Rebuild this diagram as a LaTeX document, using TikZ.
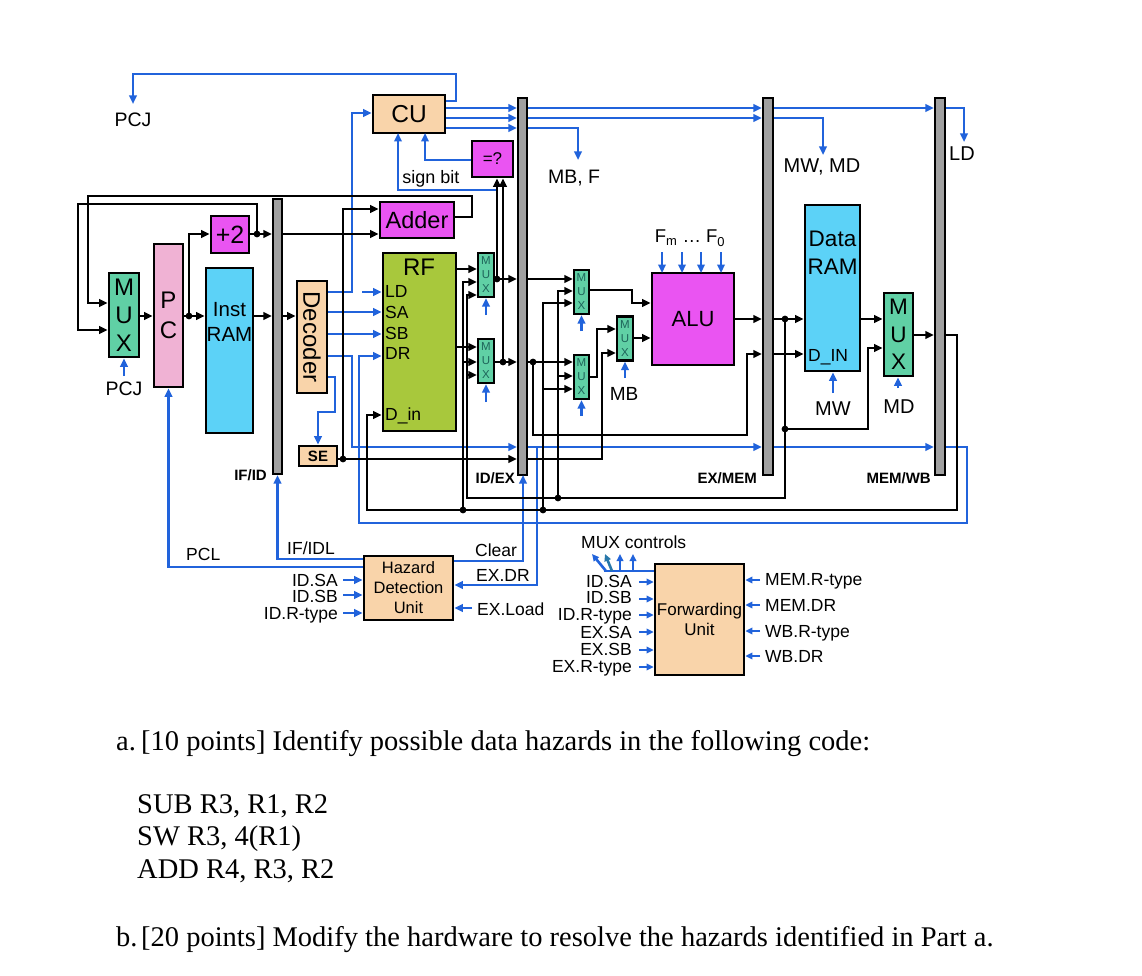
\documentclass[tikz,border=0pt]{standalone}
\usepackage{fontspec}
\setmainfont{Liberation Sans}
\newfontfamily\tnr{Liberation Serif}
\usetikzlibrary{arrows.meta}
\definecolor{wblue}{RGB}{33,99,219}
\definecolor{peach}{RGB}{249,212,170}
\definecolor{mag}{RGB}{234,84,242}
\definecolor{mint}{RGB}{96,208,165}
\definecolor{pcpink}{RGB}{240,178,212}
\definecolor{ramblue}{RGB}{92,210,247}
\definecolor{rfgreen}{RGB}{168,200,60}
\definecolor{bargray}{RGB}{160,160,160}
\definecolor{muxtxt}{RGB}{30,100,90}
\definecolor{tealarrow}{RGB}{40,120,170}
\newcommand\fsz[1]{\fontsize{#1pt}{#1pt}\selectfont}
\newcommand\fszl[2]{\fontsize{#1pt}{#2pt}\selectfont}
\tikzset{
  wire/.style={line width=2.6pt, draw=black},
  bw/.style={line width=2.6pt, draw=wblue},
  arr/.style={-{Triangle[length=8.5pt,width=7.5pt]}},
  sarr/.style={-{Triangle[length=7pt,width=6.5pt]}},
  blk/.style={draw=black, line width=2.7pt, inner sep=0pt, align=center},
  barn/.style={draw=black, line width=2.3pt, fill=bargray, inner sep=0pt},
  lb/.style={inner sep=0pt, anchor=base},
  lbe/.style={inner sep=0pt, anchor=base east},
  lbw/.style={inner sep=0pt, anchor=base west},
  smux/.style={draw=black, line width=2.2pt, inner sep=0pt, align=center, fill=mint, font=\fszl{11.5}{14}, text=muxtxt, minimum width=16pt, minimum height=44pt},
  qtext/.style={inner sep=0pt, anchor=base west, font=\tnr\fsz{28.5}},
}
\begin{document}
\begin{tikzpicture}[x=1pt,y=-1pt]
\useasboundingbox (0,0) rectangle (1142,976);
\fill[white] (0,0) rectangle (1142,976);

% ---------- boxes ----------
\node[blk, fill=peach, minimum width=72pt, minimum height=38pt, font=\fsz{24.5}] (cu) at (409,114) {CU};
\node[blk, fill=mag, minimum width=41pt, minimum height=36pt, font=\fsz{17}] (eq) at (492.5,159) {=?};
\node[blk, fill=mag, minimum width=74pt, minimum height=36pt, font=\fsz{23.5}] (adder) at (417,220) {Adder};
\node[blk, fill=mag, minimum width=38pt, minimum height=37pt, font=\fsz{25}] (p2) at (230,234.5) {+2};
\node[blk, fill=rfgreen, minimum width=73pt, minimum height=178pt] (rf) at (419.5,342) {};
\node[blk, fill=mint, minimum width=30pt, minimum height=84pt, font=\fszl{24}{28}] (mux0) at (124,315) {M\\U\\X};
\node[blk, fill=pcpink, minimum width=29pt, minimum height=143pt, font=\fszl{24}{30}] (pc) at (168.5,315.5) {P\\C};
\node[blk, fill=ramblue, minimum width=47pt, minimum height=165pt] (iram) at (229.5,350.5) {};
\node[barn, minimum width=9pt, minimum height=275pt] (ifid) at (277.5,336.5) {};
\node[blk, fill=peach, minimum width=30pt, minimum height=112pt] (dec) at (312,337) {};
\node[rotate=-90, inner sep=0pt, font=\fsz{24}] (dect) at (312,337) {Decoder};
\node[blk, fill=peach, minimum width=38pt, minimum height=20pt, font=\bfseries\fsz{15}] (se) at (318,456) {SE};
\node[smux] (mxu) at (486,275) {M\\U\\X};
\node[smux] (mxl) at (486,361) {M\\U\\X};
\node[barn, minimum width=9pt, minimum height=377pt] (idex) at (522.5,286.5) {};
\node[smux, minimum width=15pt] (muxa) at (581.5,292) {M\\U\\X};
\node[smux, minimum width=15pt] (muxb) at (581.5,377) {M\\U\\X};
\node[smux] (mbmux) at (625,338.5) {M\\U\\X};
\node[blk, fill=mag, minimum width=82pt, minimum height=92pt, font=\fsz{22}] (alu) at (693,319) {ALU};
\node[barn, minimum width=10pt, minimum height=377pt] (exmem) at (768,286.5) {};
\node[blk, fill=ramblue, minimum width=55pt, minimum height=166pt] (dram) at (832.5,288) {};
\node[blk, fill=mint, minimum width=29pt, minimum height=83pt, font=\fszl{22.5}{27.5}] (wbmux) at (898.5,334.5) {M\\U\\X};
\node[barn, minimum width=10pt, minimum height=377pt] (memwb) at (940,286.5) {};
\node[blk, fill=peach, minimum width=89pt, minimum height=64pt, font=\fszl{16.5}{20}] (hz) at (408.5,588) {Hazard\\Detection\\Unit};
\node[blk, fill=peach, minimum width=89pt, minimum height=111pt, font=\fszl{17}{20.5}] (fw) at (699.5,619.5) {Forwarding\\Unit};

% texts inside boxes
\node[inner sep=0pt, align=center, font=\fszl{22.5}{28}] (dramt) at (832.5,253) {Data\\RAM};
\node[inner sep=0pt, align=center, font=\fszl{20.5}{25}] (iramt) at (229.5,322) {Inst\\RAM};
\node[lb, font=\fsz{24}] (rft) at (419,276) {RF};
\node[lbw, font=\fsz{17.5}] (rfld) at (385,297) {LD};
\node[lbw, font=\fsz{17.5}] (rfsa) at (385,318) {SA};
\node[lbw, font=\fsz{17.5}] (rfsb) at (385,339) {SB};
\node[lbw, font=\fsz{17.5}] (rfdr) at (385,359) {DR};
\node[lbw, font=\fsz{17.5}] (rfdin) at (385,420) {D\_in};
\node[lbw, font=\fsz{17.5}] (dramin) at (808,361) {D\_IN};

% ---------- blue control wires ----------
\draw[bw,arr] (cu.east |- 0,101) -| (456,74) -| (133,104);
\draw[bw,arr] (dec.east |- 0,292) -| (352,113) -- (cu.west |- 0,113);
\draw[bw,arr] (362,292) -- (rf.west |- 0,292);
\draw[bw,arr] (dec.east |- 0,312) -- (rf.west |- 0,312);
\draw[bw,arr] (dec.east |- 0,334) -- (rf.west |- 0,334);
\draw[bw,arr] (dec.east |- 0,356) -| (352,447) -- (idex.west |- 0,447);
\draw[bw,arr] (dec.east |- 0,377) -| (335,412) -| (se.north);
\foreach \y in {108,118,128} \draw[bw,arr] (cu.east |- 0,\y) -- (idex.west |- 0,\y);
\draw[bw,arr] (idex.east |- 0,108) -- (exmem.west |- 0,108);
\draw[bw,arr] (idex.east |- 0,118) -- (exmem.west |- 0,118);
\draw[bw,arr] (idex.east |- 0,128) -| (578,160);
\draw[bw,arr] (exmem.east |- 0,108) -- (memwb.west |- 0,108);
\draw[bw,arr] (exmem.east |- 0,118) -| (823,155);
\draw[bw,arr] (memwb.east |- 0,108) -| (964,142);
\draw[bw,arr] (eq.west |- 0,160) -| (425,133);
\draw[bw,arr] (497,190) -| (398,133);
\draw[bw,arr] (486,315) -- (mxu.south);
\draw[bw,arr] (486,402) -- (mxl.south);
\draw[bw,arr] (581.5,331) -- (muxa.south);
\draw[bw,arr] (581.5,416) -- (muxb.south);
\draw[bw,arr] (625,378) -- (mbmux.south);
\foreach \x in {662,682,701,721} \draw[bw,arr] (\x,252) -- (\x,273);
\draw[bw,arr] (833,393) -- (dram.south -| 833,0);
\draw[bw,arr] (898,388) -- (wbmux.south -| 898,0);
\draw[bw,arr] (idex.east |- 0,447) -- (exmem.west |- 0,447);
\draw[bw,arr] (exmem.east |- 0,447) -- (memwb.west |- 0,447);
\draw[bw,arr] (memwb.east |- 0,447) -| (967,523) -| (359,356) -- (rf.west |- 0,356);
\draw[bw,arr] (537,447) |- (hz.east |- 0,585);
\draw[bw,arr] (hz.east |- 0,561) -| (523,475);
\draw[bw,arr] (472,608) -- (hz.east |- 0,608);
\draw[bw,arr] (hz.west |- 0,559) -| (ifid.south);
\draw[bw,arr] (hz.west |- 0,567) -| (pc.south);
\foreach \y in {580,595,613} \draw[bw,arr] (343,\y) -- (hz.west |- 0,\y);
\draw[bw,arr] (124,376) -- (mux0.south);
\foreach \y in {582,599,615,632,650,667} \draw[bw,sarr] (639,\y) -- (fw.west |- 0,\y);
\foreach \y in {580,605,631,656} \draw[bw,sarr] (760,\y) -- (fw.east |- 0,\y);
\draw[bw] (fw.west |- 0,571) -- (604,571);
\draw[bw,sarr] (606,571) -- (592,554);
\draw[line width=2.6pt, draw=tealarrow, sarr] (612,571) -- (605,554);
\draw[bw,sarr] (620,571) -- (620,554);
\draw[bw,sarr] (633,571) -- (633,554);

% ---------- black data wires ----------
\draw[wire,arr] (mux0.east |- 0,316) -- (pc.west |- 0,316);
\draw[wire,arr] (pc.east |- 0,316) -- (iram.west |- 0,316);
\draw[wire,arr] (189,316) |- (p2.west |- 0,234);
\draw[wire,arr] (p2.east |- 0,234) -- (ifid.west |- 0,234);
\draw[wire,arr] (257,234) |- (78,204) |- (mux0.west |- 0,330);
\draw[wire,arr] (adder.east |- 0,217) -| (472,196) -| (88,303) -- (mux0.west |- 0,303);
\draw[wire,arr] (ifid.east |- 0,234) -- (adder.west |- 0,234);
\draw[wire] (se.east |- 0,459) -- (343,459);
\draw[wire,arr] (343,459) |- (adder.west |- 0,209);
\draw[wire,arr] (343,459) -- (idex.west |- 0,459);
\draw[wire,arr] (iram.east |- 0,316) -- (ifid.west |- 0,316);
\draw[wire,arr] (ifid.east |- 0,316) -- (dec.west |- 0,316);
\draw[wire,arr] (rf.east |- 0,269) -- (mxu.west |- 0,269);
\draw[wire,arr] (rf.east |- 0,347) -- (mxl.west |- 0,347);
% write-back path
\draw[wire,arr] (wbmux.east |- 0,335) -- (memwb.west |- 0,335);
\draw[wire,arr] (memwb.east |- 0,335) -| (957,510) -| (367,415) -- (rf.west |- 0,415);
\draw[wire,arr] (463,510) |- (mxu.west |- 0,282);
\draw[wire,arr] (463,362) -- (mxl.west |- 0,362);
\draw[wire,arr] (543,510) |- (muxa.west |- 0,303);
\draw[wire,arr] (543,389) -- (muxb.west |- 0,389);
% memory-stage path
\draw[wire,arr] (alu.east |- 0,319) -- (exmem.west |- 0,319);
\draw[wire,arr] (exmem.east |- 0,319) -- (dram.west |- 0,319);
\draw[wire,arr] (785,319) |- (467,498) |- (mxu.west |- 0,295);
\draw[wire,arr] (467,375) -- (mxl.west |- 0,375);
\draw[wire,arr] (558,498) |- (muxa.west |- 0,291);
\draw[wire,arr] (558,376) -- (muxb.west |- 0,376);
\draw[wire,arr] (785,429) -| (868,348) -- (wbmux.west |- 0,348);
\draw[wire,arr] (dram.east |- 0,319) -- (wbmux.west |- 0,319);
% store data
\draw[wire,arr] (533,362) |- (747,435) |- (exmem.west |- 0,354);
\draw[wire,arr] (exmem.east |- 0,354) -- (dram.west |- 0,354);
% ID muxes out
\draw[wire,arr] (mxu.east |- 0,279) -- (idex.west |- 0,279);
\draw[wire,arr] (mxl.east |- 0,362) -- (idex.west |- 0,362);
\draw[wire,arr] (497,279) -- (eq.south -| 497,0);
\draw[wire,arr] (503,362) -- (eq.south -| 503,0);
% EX stage
\draw[wire,arr] (idex.east |- 0,279) -- (muxa.west |- 0,279);
\draw[wire,arr] (idex.east |- 0,362) -- (muxb.west |- 0,362);
\draw[wire,arr] (muxa.east |- 0,290) -| (632,303) -- (alu.west |- 0,303);
\draw[wire,arr] (muxb.east |- 0,377) -| (597,329) -- (mbmux.west |- 0,329);
\draw[wire,arr] (idex.east |- 0,459) -| (602,353) -- (mbmux.west |- 0,353);
\draw[wire,arr] (mbmux.east |- 0,338) -- (alu.west |- 0,338);
% junction dots
\foreach \p in {(189,316),(257,234),(343,459),(463,510),(543,510),(558,498),(785,319),(785,429),(533,362),(497,279),(503,362)}
  \fill \p circle (3.4pt);

% ---------- labels ----------
\node[lb, font=\fsz{19.5}] (pcjt) at (133,127) {PCJ};
\node[lb, font=\fsz{19.5}] (pcjb) at (124,395) {PCJ};
\node[lb, font=\fsz{18}] (sgn) at (431,184) {sign bit};
\node[lb, font=\fsz{19.5}] (mbf) at (574,184) {MB, F};
\node[lb, font=\fsz{20}] (mwmd) at (822,173) {MW, MD};
\node[lb, font=\fsz{20}] (ldl) at (962,161) {LD};
\node[lb, font=\fsz{18.5}] (fmf) at (690,243) {F\textsubscript{m} … F\textsubscript{0}};
\node[lb, font=\fsz{19}] (mbl) at (624,400) {MB};
\node[lb, font=\fsz{20}] (mwl) at (833,415) {MW};
\node[lb, font=\fsz{20}] (mdl) at (899,413) {MD};
\node[lbe, font=\bfseries\fsz{15}] (ifidl) at (267,480) {IF/ID};
\node[lbe, font=\bfseries\fsz{15}] (idexl) at (515,483) {ID/EX};
\node[lbe, font=\bfseries\fsz{15}] (exmeml) at (757,483) {EX/MEM};
\node[lbe, font=\bfseries\fsz{15}] (memwbl) at (931,483) {MEM/WB};
\node[lbw, font=\fsz{17.5}] (clr) at (475,556) {Clear};
\node[lbw, font=\fsz{17.5}] (exdr) at (476,581) {EX.DR};
\node[lbw, font=\fsz{17.5}] (exld) at (477,615) {EX.Load};
\node[lbw, font=\fsz{17.5}] (ifidll) at (287,554) {IF/IDL};
\node[lbw, font=\fsz{17.5}] (pcl) at (186,560) {PCL};
\node[lbe, font=\fsz{17.5}] (hsa) at (338,586) {ID.SA};
\node[lbe, font=\fsz{17.5}] (hsb) at (338,602) {ID.SB};
\node[lbe, font=\fsz{17.5}] (hrt) at (338,619) {ID.R-type};
\node[lbe, font=\fsz{17.5}] (fsa) at (632,587) {ID.SA};
\node[lbe, font=\fsz{17.5}] (fsb) at (632,603) {ID.SB};
\node[lbe, font=\fsz{17.5}] (frt) at (632,620) {ID.R-type};
\node[lbe, font=\fsz{17.5}] (fesa) at (632,638) {EX.SA};
\node[lbe, font=\fsz{17.5}] (fesb) at (632,655) {EX.SB};
\node[lbe, font=\fsz{17.5}] (fert) at (632,672) {EX.R-type};
\node[lbw, font=\fsz{17.5}] (fmrt) at (765,585) {MEM.R-type};
\node[lbw, font=\fsz{17.5}] (fmdr) at (765,611) {MEM.DR};
\node[lbw, font=\fsz{17.5}] (fwrt) at (765,637) {WB.R-type};
\node[lbw, font=\fsz{17.5}] (fwdr) at (765,662) {WB.DR};
\node[lbw, font=\fsz{17.5}] (muxc) at (581,548) {MUX controls};

% ---------- question text ----------
\node[qtext] (qa) at (116,750) {a.};
\node[qtext] (qat) at (141,750) {[10 points] Identify possible data hazards in the following code:};
\node[qtext] (c1) at (137,813) {SUB R3, R1, R2};
\node[qtext] (c2) at (137,845) {SW R3, 4(R1)};
\node[qtext] (c3) at (137,878) {ADD R4, R3, R2};
\node[qtext] (qb) at (116,946) {b.};
\node[qtext] (qbt) at (141,946) {[20 points] Modify the hardware to resolve the hazards identified in Part a.};
\end{tikzpicture}
\end{document}
